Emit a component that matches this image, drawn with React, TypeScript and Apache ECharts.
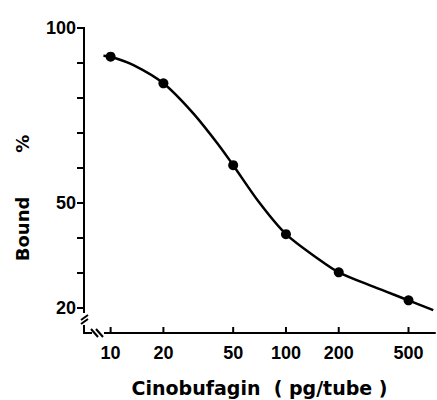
import React, { useEffect, useRef } from "react";
import * as echarts from "echarts";

// Measured points (dose in pg/tube, % bound)
const doses = [10, 20, 50, 100, 200, 500];
const boundPct = [91.8, 84.2, 60.8, 41.1, 30.2, 22.2];

// Fitted standard curve
const curveDoses = [9.1, 10, 13.5, 20, 29.6, 42, 50, 71, 100, 156, 200, 315, 500, 692];
const curveBound = [92.1, 91.8, 89.4, 84.2, 75.6, 66.1, 60.8, 49.9, 41.1, 33.7, 30.2, 26.1, 22.2, 19.4];

// Axis ticks and labels
const xTickValues = [10, 20, 50, 100, 200, 500];
const yTickValues = [20, 30, 40, 50, 60, 70, 80, 90, 100];
const yLabelValues = [20, 50, 100];

const xTitle = "Cinobufagin  ( pg/tube )";
const yTitle = "Bound       %";

export default function App() {
  const ref = useRef<HTMLDivElement>(null);

  useEffect(() => {
    document.body.style.margin = "0";
    if (!ref.current) return;
    const chart = echarts.init(ref.current, undefined, { renderer: "svg" });

    const gl = 84, gt = 28, gw = 351, gh = 305;
    const ox = gl, oy = gt + gh;
    const black = "#000";
    const xMin = 7.05, xMax = 708, yMin = 12.86, yMax = 100;

    const breaks = [
      { type: "rect", shape: { x: ox - 3, y: oy - 20, width: 6, height: 12 }, style: { fill: "#fff" }, z: 100 },
      { type: "line", shape: { x1: ox - 3, y1: oy - 13, x2: ox + 4, y2: oy - 18 }, style: { stroke: black, lineWidth: 2 }, z: 101 },
      { type: "line", shape: { x1: ox - 3, y1: oy - 9, x2: ox + 4, y2: oy - 14 }, style: { stroke: black, lineWidth: 2 }, z: 101 },
      { type: "rect", shape: { x: ox + 8, y: oy - 3, width: 12, height: 6 }, style: { fill: "#fff" }, z: 100 },
      { type: "line", shape: { x1: ox + 7, y1: oy - 4, x2: ox + 14, y2: oy + 4 }, style: { stroke: black, lineWidth: 2 }, z: 101 },
      { type: "line", shape: { x1: ox + 12, y1: oy - 4, x2: ox + 19, y2: oy + 4 }, style: { stroke: black, lineWidth: 2 }, z: 101 },
    ];

    const yTitleEl = {
      type: "text",
      x: 22,
      y: 198,
      rotation: Math.PI / 2,
      style: {
        text: yTitle,
        fontFamily: "DejaVu Sans",
        fontWeight: "bold",
        fontSize: 18,
        fill: black,
        align: "center",
        verticalAlign: "middle",
      },
      z: 100,
    };

    const labelStyle = {
      fontFamily: "Liberation Sans",
      fontWeight: "bold",
      fontSize: 18,
      color: black,
    };

    // tick descriptors: [x, y, kind] kind 0 = y-axis tick, 1 = x-axis tick
    const tickData = [
      ...yTickValues.map((v) => [100, v, 0]),
      ...xTickValues.map((v) => [v, 50, 1]),
    ];

    chart.setOption({
      animation: false,
      backgroundColor: "#fff",
      grid: { left: gl, top: gt, width: gw, height: gh, outerBoundsMode: "none" },
      xAxis: {
        type: "log",
        logBase: 10,
        min: xMin,
        max: xMax,
        name: xTitle,
        nameLocation: "middle",
        nameGap: 45,
        nameTextStyle: { fontFamily: "DejaVu Sans", fontWeight: "bold", fontSize: 19, color: black },
        axisLine: { show: true, lineStyle: { color: black, width: 2 } },
        axisTick: { show: false },
        minorTick: { show: false },
        axisLabel: { customValues: xTickValues, margin: 11, ...labelStyle },
        splitLine: { show: false },
      },
      yAxis: {
        type: "value",
        min: yMin,
        max: yMax,
        axisLine: { show: true, lineStyle: { color: black, width: 2 } },
        axisTick: { show: false },
        axisLabel: { customValues: yLabelValues, margin: 8, ...labelStyle },
        splitLine: { show: false },
      },
      graphic: [yTitleEl, ...breaks],
      series: [
        {
          type: "line",
          data: curveDoses.map((d, i) => [d, curveBound[i]]),
          smooth: 0.3,
          symbol: "none",
          lineStyle: { color: black, width: 2.5 },
        },
        {
          type: "scatter",
          data: doses.map((d, i) => [d, boundPct[i]]),
          symbolSize: 10,
          itemStyle: { color: black, opacity: 1 },
        },
        {
          type: "custom",
          data: tickData,
          renderItem: (params: any, api: any) => {
            const p = api.coord([api.value(0), api.value(1)]);
            const cs = params.coordSys;
            if (api.value(2) === 0) {
              return {
                type: "rect",
                shape: { x: cs.x - 7, y: p[1] - 1, width: 8, height: 2 },
                style: { fill: "#000000" },
              };
            }
            const y0 = cs.y + cs.height;
            return {
              type: "rect",
              shape: { x: p[0] - 1, y: y0 - 6, width: 2, height: 7 },
              style: { fill: "#000000" },
            };
          },
        },
      ],
    });

    return () => chart.dispose();
  }, []);

  return <div ref={ref} style={{ width: 437, height: 400 }} />;
}
